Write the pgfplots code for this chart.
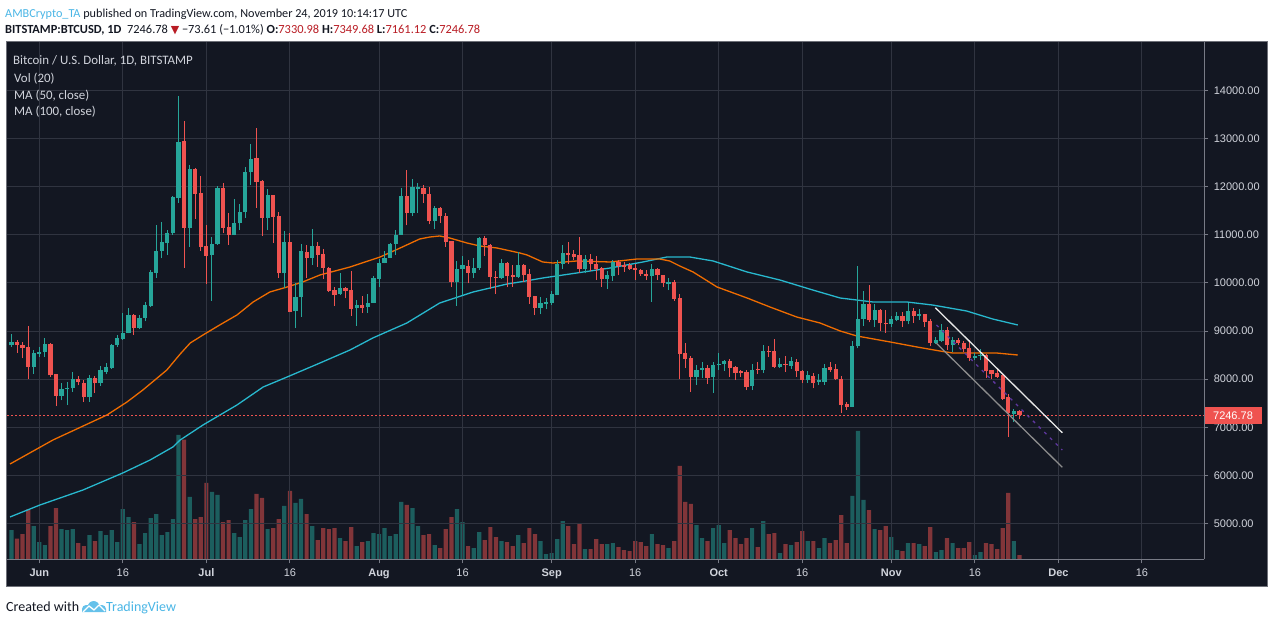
\documentclass[border=0pt]{standalone}
\usepackage{pgfplots}
\usepackage{pgfplotstable}
\pgfplotsset{compat=1.18}
\usepackage{fontspec}
\setmainfont{Carlito}
\newfontfamily\axfont{Liberation Sans}
\newfontfamily\dvfont{DejaVu Sans}
\definecolor{bg}{RGB}{19,23,34}
\definecolor{gridc}{RGB}{48,52,64}
\definecolor{upc}{RGB}{38,166,154}
\definecolor{dnc}{RGB}{239,83,80}
\definecolor{ma50}{RGB}{239,108,0}
\definecolor{ma100}{RGB}{40,184,206}
\definecolor{txt}{RGB}{209,212,220}
\definecolor{axc}{RGB}{120,123,134}
\definecolor{tvblue}{RGB}{74,182,230}
\definecolor{hdr}{RGB}{19,23,34}
\definecolor{hred}{RGB}{185,28,36}
\definecolor{purp}{RGB}{95,55,160}
\definecolor{border}{RGB}{110,112,120}

\pgfplotstableread{
d o h l c u v
-5 8700 8940 8675 8765 1 29.3
-4 8765 8810 8550 8710 0 20.7
-3 8720 8780 8430 8650 0 25.3
-2 8670 9100 8000 8260 0 50
-1 8260 8610 8110 8540 1 33.3
0 8520 8670 8470 8570 1 17.3
1 8570 8850 8470 8740 1 14.3
2 8740 8760 8050 8080 0 33.3
3 8100 8110 7440 7650 0 51.3
4 7650 7910 7560 7790 1 30.3
5 7790 7940 7460 7820 1 29.3
6 7810 8150 7740 8010 1 30.3
7 8010 8060 7870 7940 0 16.3
8 7930 7990 7530 7620 0 13.3
9 7620 8090 7530 8030 1 24.3
10 8030 8070 7720 7910 0 18.3
11 7910 8280 7860 8190 1 28.3
12 8150 8330 8100 8260 1 24.3
13 8230 8730 8210 8710 1 29.3
14 8700 8920 8670 8860 1 17.3
15 8830 9370 8810 8970 1 50.3
16 8970 9470 8950 9330 1 42.3
17 9330 9350 8920 9070 0 37.3
18 9070 9330 9050 9280 1 15.3
19 9280 9610 9200 9540 1 26.3
20 9530 10270 9500 10230 1 41.3
21 10210 11200 10110 10670 1 45.3
22 10670 11260 10510 10850 1 24.3
23 10830 11100 10580 11030 1 27.3
24 11030 11810 11000 11780 1 40.3
25 11760 13890 11670 12940 1 124.3
26 12950 13370 10320 11150 0 119.7
27 11150 12450 10750 12370 1 62.3
28 12370 12400 11340 11860 0 40.3
29 11870 12220 10670 10750 0 42.3
30 10770 11200 9970 10570 0 76.3
31 10580 10950 9630 10820 1 67.3
32 10820 12020 10800 11970 1 64.3
33 11970 12070 11050 11150 0 37.3
34 11170 11450 10790 11000 0 39.3
35 11000 11740 10990 11240 1 26.3
36 11240 11640 11100 11470 1 22.3
37 11470 12410 11360 12300 1 39.3
38 12300 12890 12040 12580 1 50.3
39 12590 13220 11570 12110 0 65.3
40 12120 12140 10980 11360 0 61.3
41 11360 11950 11100 11830 1 30.3
42 11830 11840 10840 11380 0 31.3
43 11390 11470 10110 10200 0 40.3
44 10200 11090 9890 10850 1 53.3
45 10850 11050 9390 9400 0 68.3
46 9420 9990 9070 9700 1 56.3
47 9710 10810 9300 10660 1 60.3
48 10640 10790 10110 10530 0 45.3
49 10530 11120 10370 10770 1 33.3
50 10770 10850 10340 10580 0 19.3
51 10610 10710 10080 10320 0 31.3
52 10320 10330 9820 9840 0 30.3
53 9850 9910 9520 9760 0 31.3
54 9770 10200 9750 9890 1 21.3
55 9890 9920 9680 9840 0 18.3
56 9850 10240 9320 9460 0 32.3
57 9470 9640 9110 9540 1 13.3
58 9540 9730 9380 9480 0 17.3
59 9500 9780 9380 9590 1 18.3
60 9590 10150 9580 10100 1 26.3
61 10090 10500 9910 10420 1 25.3
62 10420 10670 10410 10530 1 31.3
63 10530 10840 10510 10820 1 23.3
64 10820 11100 10590 11000 1 25.3
65 11000 11980 11000 11810 1 57.3
66 11810 12350 11200 11460 0 54.3
67 11460 12160 11390 11990 1 51.3
68 11960 12080 11460 11990 1 33.3
69 11970 12040 11670 11850 0 24.3
70 11860 11990 11220 11280 0 25.3
71 11280 11610 11120 11550 1 14.3
72 11550 11580 11250 11390 0 11.3
73 11390 11460 10750 10860 0 30.3
74 10870 10880 9910 10030 0 42.3
75 10030 10450 9520 10300 1 50.3
76 10300 10560 9760 10370 1 37.3
77 10360 10480 9990 10210 0 13.3
78 10210 10510 10100 10320 1 11.3
79 10320 10960 10280 10940 1 27.3
80 10940 10980 10570 10780 0 19.3
81 10780 10810 9870 10130 0 32.3
82 10135 10250 9780 10110 0 22.3
83 10110 10500 10080 10420 1 18.3
84 10420 10440 9910 10140 0 17.3
85 10160 10370 9920 10130 0 13.3
86 10130 10650 10110 10370 1 24.3
87 10370 10400 10020 10160 0 16.3
88 10180 10290 9560 9710 0 31.3
89 9720 9730 9330 9480 0 25.3
90 9480 9700 9350 9580 1 18.3
91 9560 9680 9450 9610 1 5.3
92 9590 9830 9540 9770 1 6.3
93 9750 10470 9750 10400 1 20.3
94 10390 10790 10290 10620 1 38.3
95 10620 10860 10400 10580 0 33.3
96 10600 10680 10470 10550 0 15.3
97 10580 10960 10210 10290 0 35.3
98 10290 10580 10200 10490 1 10.3
99 10490 10600 10250 10400 0 10.3
100 10390 10560 10060 10290 0 20.3
101 10320 10330 9920 10080 0 15.3
102 10080 10250 9870 10160 1 15.3
103 10140 10470 10040 10430 1 16.3
104 10440 10470 10160 10350 0 12.3
105 10370 10440 10230 10340 0 9.3
106 10370 10410 10270 10290 0 8.3
107 10320 10390 10060 10270 0 18.3
108 10270 10300 10150 10180 0 17.3
109 10180 10270 10060 10150 0 13.3
110 10150 10390 9610 10290 1 25.3
111 10290 10310 10060 10160 0 15.3
112 10160 10170 9920 9990 0 14.3
113 9980 10100 9850 10020 1 11.3
114 10030 10060 9630 9660 0 18.3
115 9680 9780 8000 8520 0 93.3
116 8540 8750 8230 8420 0 57.3
117 8440 8480 7740 8050 0 55.3
118 8050 8290 7880 8190 1 34.3
119 8200 8360 8030 8230 1 21.3
120 8230 8290 7900 8030 0 18.3
121 8050 8360 7720 8290 1 31.3
122 8290 8540 8200 8315 1 34.3
123 8310 8400 8170 8380 1 16.3
124 8380 8410 8050 8240 0 29.3
125 8260 8270 7980 8130 0 21.3
126 8170 8200 8050 8130 0 15.3
127 8150 8190 7770 7840 0 21.3
128 7850 8310 7770 8200 1 31.3
129 8215 8360 8110 8190 0 12.3
130 8180 8710 8130 8590 1 38.3
131 8595 8680 8470 8570 0 25.3
132 8590 8840 8240 8260 0 26.3
133 8260 8450 8240 8310 1 6.3
134 8315 8480 8150 8290 0 15.3
135 8280 8470 8220 8380 1 14.3
136 8360 8410 8050 8160 0 17.3
137 8170 8190 7930 7980 0 28.3
138 7980 8160 7930 8090 1 18.3
139 8070 8120 7810 7930 0 18.3
140 7950 8110 7880 7975 1 11.3
141 7950 8310 7880 8240 1 21.3
142 8250 8350 8150 8200 0 16.3
143 8210 8310 7980 8000 0 19.3
144 8010 8060 7300 7460 0 44.3
145 7480 7530 7360 7430 0 16.3
146 7430 8790 7420 8680 1 63.3
147 8680 10350 8640 9250 1 128.3
148 9250 9830 9110 9560 1 59.3
149 9560 9960 9180 9220 0 49.3
150 9220 9560 9080 9440 1 30.3
151 9440 9450 9010 9160 0 29.3
152 9170 9440 8970 9150 0 33.3
153 9150 9310 9080 9250 1 22.3
154 9240 9400 9200 9310 1 9.3
155 9310 9400 9080 9200 0 8.3
156 9200 9590 9140 9420 1 16.3
157 9420 9490 9170 9310 0 16.3
158 9310 9460 9240 9350 1 15.3
159 9350 9360 9090 9190 0 13.3
160 9210 9260 8680 8760 0 32.3
161 8760 8870 8730 8810 1 7.3
162 8800 9150 8780 9020 1 9.3
163 9030 9090 8610 8710 0 21.3
164 8710 8870 8570 8810 1 16.3
165 8810 8850 8710 8760 0 11.3
166 8760 8790 8570 8620 0 11.3
167 8640 8810 8380 8450 0 17.3
168 8450 8540 8400 8480 1 4.3
169 8480 8630 8390 8510 1 7.3
170 8500 8520 8030 8160 0 16.3
171 8190 8200 8000 8110 0 15.3
172 8130 8240 8020 8050 0 10.3
173 8090 8100 7570 7590 0 31.3
174 7620 7700 6800 7290 0 66.3
175 7270 7370 7110 7330 1 18.3
176 7330.98 7349.68 7161.12 7246.78 0 4.3
}\candles

\pgfplotsset{
  onlyup/.style={restrict expr to domain={\thisrow{u}}{0.5:1.5}},
  onlydn/.style={restrict expr to domain={\thisrow{u}}{-0.5:0.5}},
  tvbase/.style={scale only axis, width=1197.3pt, height=517.6pt,
      xmin=-5.8, xmax=209.2, at={(7pt,64.7pt)}, anchor=south west},
  ebar/.style={only marks, mark=*, mark size=0.1pt, mark options={opacity=0},
      error bars/y dir=plus,
      error bars/y explicit, error bars/error mark=none,
      error bars/error bar style={#1}},
}

\begin{document}
\begin{tikzpicture}
\useasboundingbox (0,0) rectangle (1274pt,624pt);
\fill[white] (0,0) rectangle (1274pt,624pt);
\filldraw[fill=bg, draw=border, line width=1pt] (6.5pt,37.3pt) rectangle (1267pt,582.3pt);

% volume
\begin{axis}[tvbase, hide axis, ymin=0, ymax=517.6]
\addplot[ybar, bar width=4.2pt, bar shift=0pt, fill=upc, fill opacity=0.5, draw=none, onlyup] table[x=d, y=v]{\candles};
\addplot[ybar, bar width=4.2pt, bar shift=0pt, fill=dnc, fill opacity=0.5, draw=none, onlydn] table[x=d, y=v]{\candles};
\end{axis}

% price
\begin{axis}[tvbase, ymin=4253, ymax=15019, clip=false,
  scaled y ticks=false, scaled x ticks=false,
  axis x line*=bottom, axis y line*=right,
  axis line style={axc, line width=1pt},
  tick align=outside, major tick length=4pt,
  tick style={axc, line width=1pt},
  grid=major, major grid style={gridc, line width=1pt},
  xtick={0,15,30,45,61,76,92,107,122,137,153,168,183,198},
  xticklabels={\textbf{Jun},16,\textbf{Jul},16,\textbf{Aug},16,\textbf{Sep},16,\textbf{Oct},16,\textbf{Nov},16,\textbf{Dec},16},
  ytick={5000,6000,7000,8000,9000,10000,11000,12000,13000,14000},
  yticklabels={5000.00,6000.00,7000.00,8000.00,9000.00,10000.00,11000.00,12000.00,13000.00,14000.00},
  ticklabel style={font=\axfont\fontsize{11}{13}\selectfont, text=txt},
  yticklabel style={anchor=west, xshift=2pt},
  xticklabel style={yshift=-2pt},
]
% moving averages
\addplot[ma100, line width=1.3pt] coordinates {(-5.26,5133) (0.13,5383) (7.85,5695) (15.0,6049) (19.9,6319) (24.0,6590) (25.3,6735) (29.4,7047) (35.5,7463) (40.2,7837) (44.5,8045) (50.4,8336) (55.8,8607) (59.9,8857) (66.0,9168) (71.9,9584) (77.9,9813) (84.0,9979) (86.3,10021) (90.4,10104) (96.5,10208) (102.5,10312) (108.4,10437) (112.7,10541) (116.8,10541) (121.0,10458) (127.1,10229) (133.0,10062) (138.9,9854) (143.8,9688) (149.7,9605) (155.8,9605) (160.4,9542) (166.5,9418) (171.2,9251) (175.7,9127)};
\addplot[ma50, line width=1.3pt] coordinates {(-5.26,6235) (2.46,6735) (12.15,7255) (15.75,7525) (18.6,7775) (22.9,8190) (25.3,8523) (27.1,8752) (29.4,8919) (32.4,9127) (35.5,9335) (38.4,9605) (41.4,9813) (44.5,9917) (47.3,10021) (50.4,10167) (55.8,10333) (61.2,10541) (64.8,10728) (68.3,10915) (70.1,10956) (71.9,10978) (73.7,10936) (76.8,10832) (79.1,10770) (82.2,10728) (86.3,10624) (87.6,10582) (90.4,10437) (92.2,10416) (96.5,10458) (102.5,10437) (107.3,10499) (111.4,10499) (113.2,10458) (115.0,10354) (117.4,10229) (121.7,9917) (127.1,9688) (131.2,9501) (136.0,9293) (140.2,9168) (143.8,9002) (146.8,8898) (152.8,8773) (157.6,8669) (161.7,8586) (164.0,8544) (167.6,8544) (171.9,8544) (175.7,8502)};
% current price line
\addplot[dnc, line width=0.8pt, dash pattern=on 2pt off 2pt] coordinates {(-5.8,7246.78) (209.2,7246.78)};
% candles: wicks then bodies (single segment from low end upward)
\addplot[ebar={upc, line width=1pt}, onlyup] table[x=d, y=l, y error expr={\thisrow{h}-\thisrow{l}}]{\candles};
\addplot[ebar={dnc, line width=1pt}, onlydn] table[x=d, y=l, y error expr={\thisrow{h}-\thisrow{l}}]{\candles};
\addplot[ebar={upc, line width=4.2pt}, onlyup] table[x=d, y=o, y error expr={\thisrow{c}-\thisrow{o}}]{\candles};
\addplot[ebar={dnc, line width=4.2pt}, onlydn] table[x=d, y=c, y error expr={\thisrow{o}-\thisrow{c}}]{\candles};
% channel
\addplot[purp, line width=1.3pt, dash pattern=on 3pt off 5pt] coordinates {(161.1,9127) (183.7,6526)};
\addplot[white!82!gray, line width=1.3pt] coordinates {(160.9,9486) (183.7,6886)};
\addplot[gray!90!white, line width=1.3pt] coordinates {(161.1,8746) (183.7,6167)};
% price label
\node[fill=dnc, text=white, anchor=west, inner sep=0pt, minimum width=57pt, minimum height=17pt, font=\axfont\fontsize{11}{13}\selectfont] at (axis cs:209.2,7246.78) {7246.78};
\end{axis}

% legend texts
\begin{scope}[every node/.style={anchor=base west, inner sep=0pt, font=\fontsize{12.9}{15}\selectfont, text=txt}]
\node at (13pt,559pt) {Bitcoin / U.S. Dollar, 1D, BITSTAMP};
\node at (14pt,541.7pt) {Vol (20)};
\node at (14pt,524.7pt) {MA (50, close)};
\node at (14pt,508pt) {MA (100, close)};
\end{scope}

% header
\node[anchor=base west, inner sep=0pt, font=\fontsize{12.2}{15}\selectfont, text=hdr] at (5pt,606.7pt) {\textcolor{tvblue}{AMBCrypto\_TA} published on TradingView.com, November 24, 2019 10:14:17 UTC};
\node[anchor=base west, inner sep=0pt, font=\fontsize{12.4}{15}\selectfont, text=hdr] at (5pt,590pt) {\textbf{BITSTAMP:BTCUSD, 1D}\ \ 7246.78 {\dvfont\fontsize{11}{12}\selectfont\textcolor{hred}{▼}} −73.61 (−1.01\%) \textbf{O:}\textcolor{hred}{7330.98} \textbf{H:}\textcolor{hred}{7349.68} \textbf{L:}\textcolor{hred}{7161.12} \textbf{C:}\textcolor{hred}{7246.78}};

% footer
\node[anchor=base west, inner sep=0pt, font=\fontsize{14}{16}\selectfont, text=hdr] at (6pt,12.3pt) {Created with};
\fill[tvblue!85!white] (82pt,12pt) -- (82pt,15pt) arc (180:90:4pt) -- (88pt,19pt) arc (160:20:6pt) -- (102pt,19pt) arc (90:0:4pt) -- (106pt,12pt) -- cycle;
\draw[white, line width=1.4pt, line join=round] (83pt,12pt) -- (89pt,18pt) -- (94pt,14pt) -- (99pt,19pt) -- (105pt,13pt);
\node[anchor=base west, inner sep=0pt, font=\fontsize{14}{16}\selectfont, text=tvblue] at (106pt,12.3pt) {TradingView};
\end{tikzpicture}
\end{document}
